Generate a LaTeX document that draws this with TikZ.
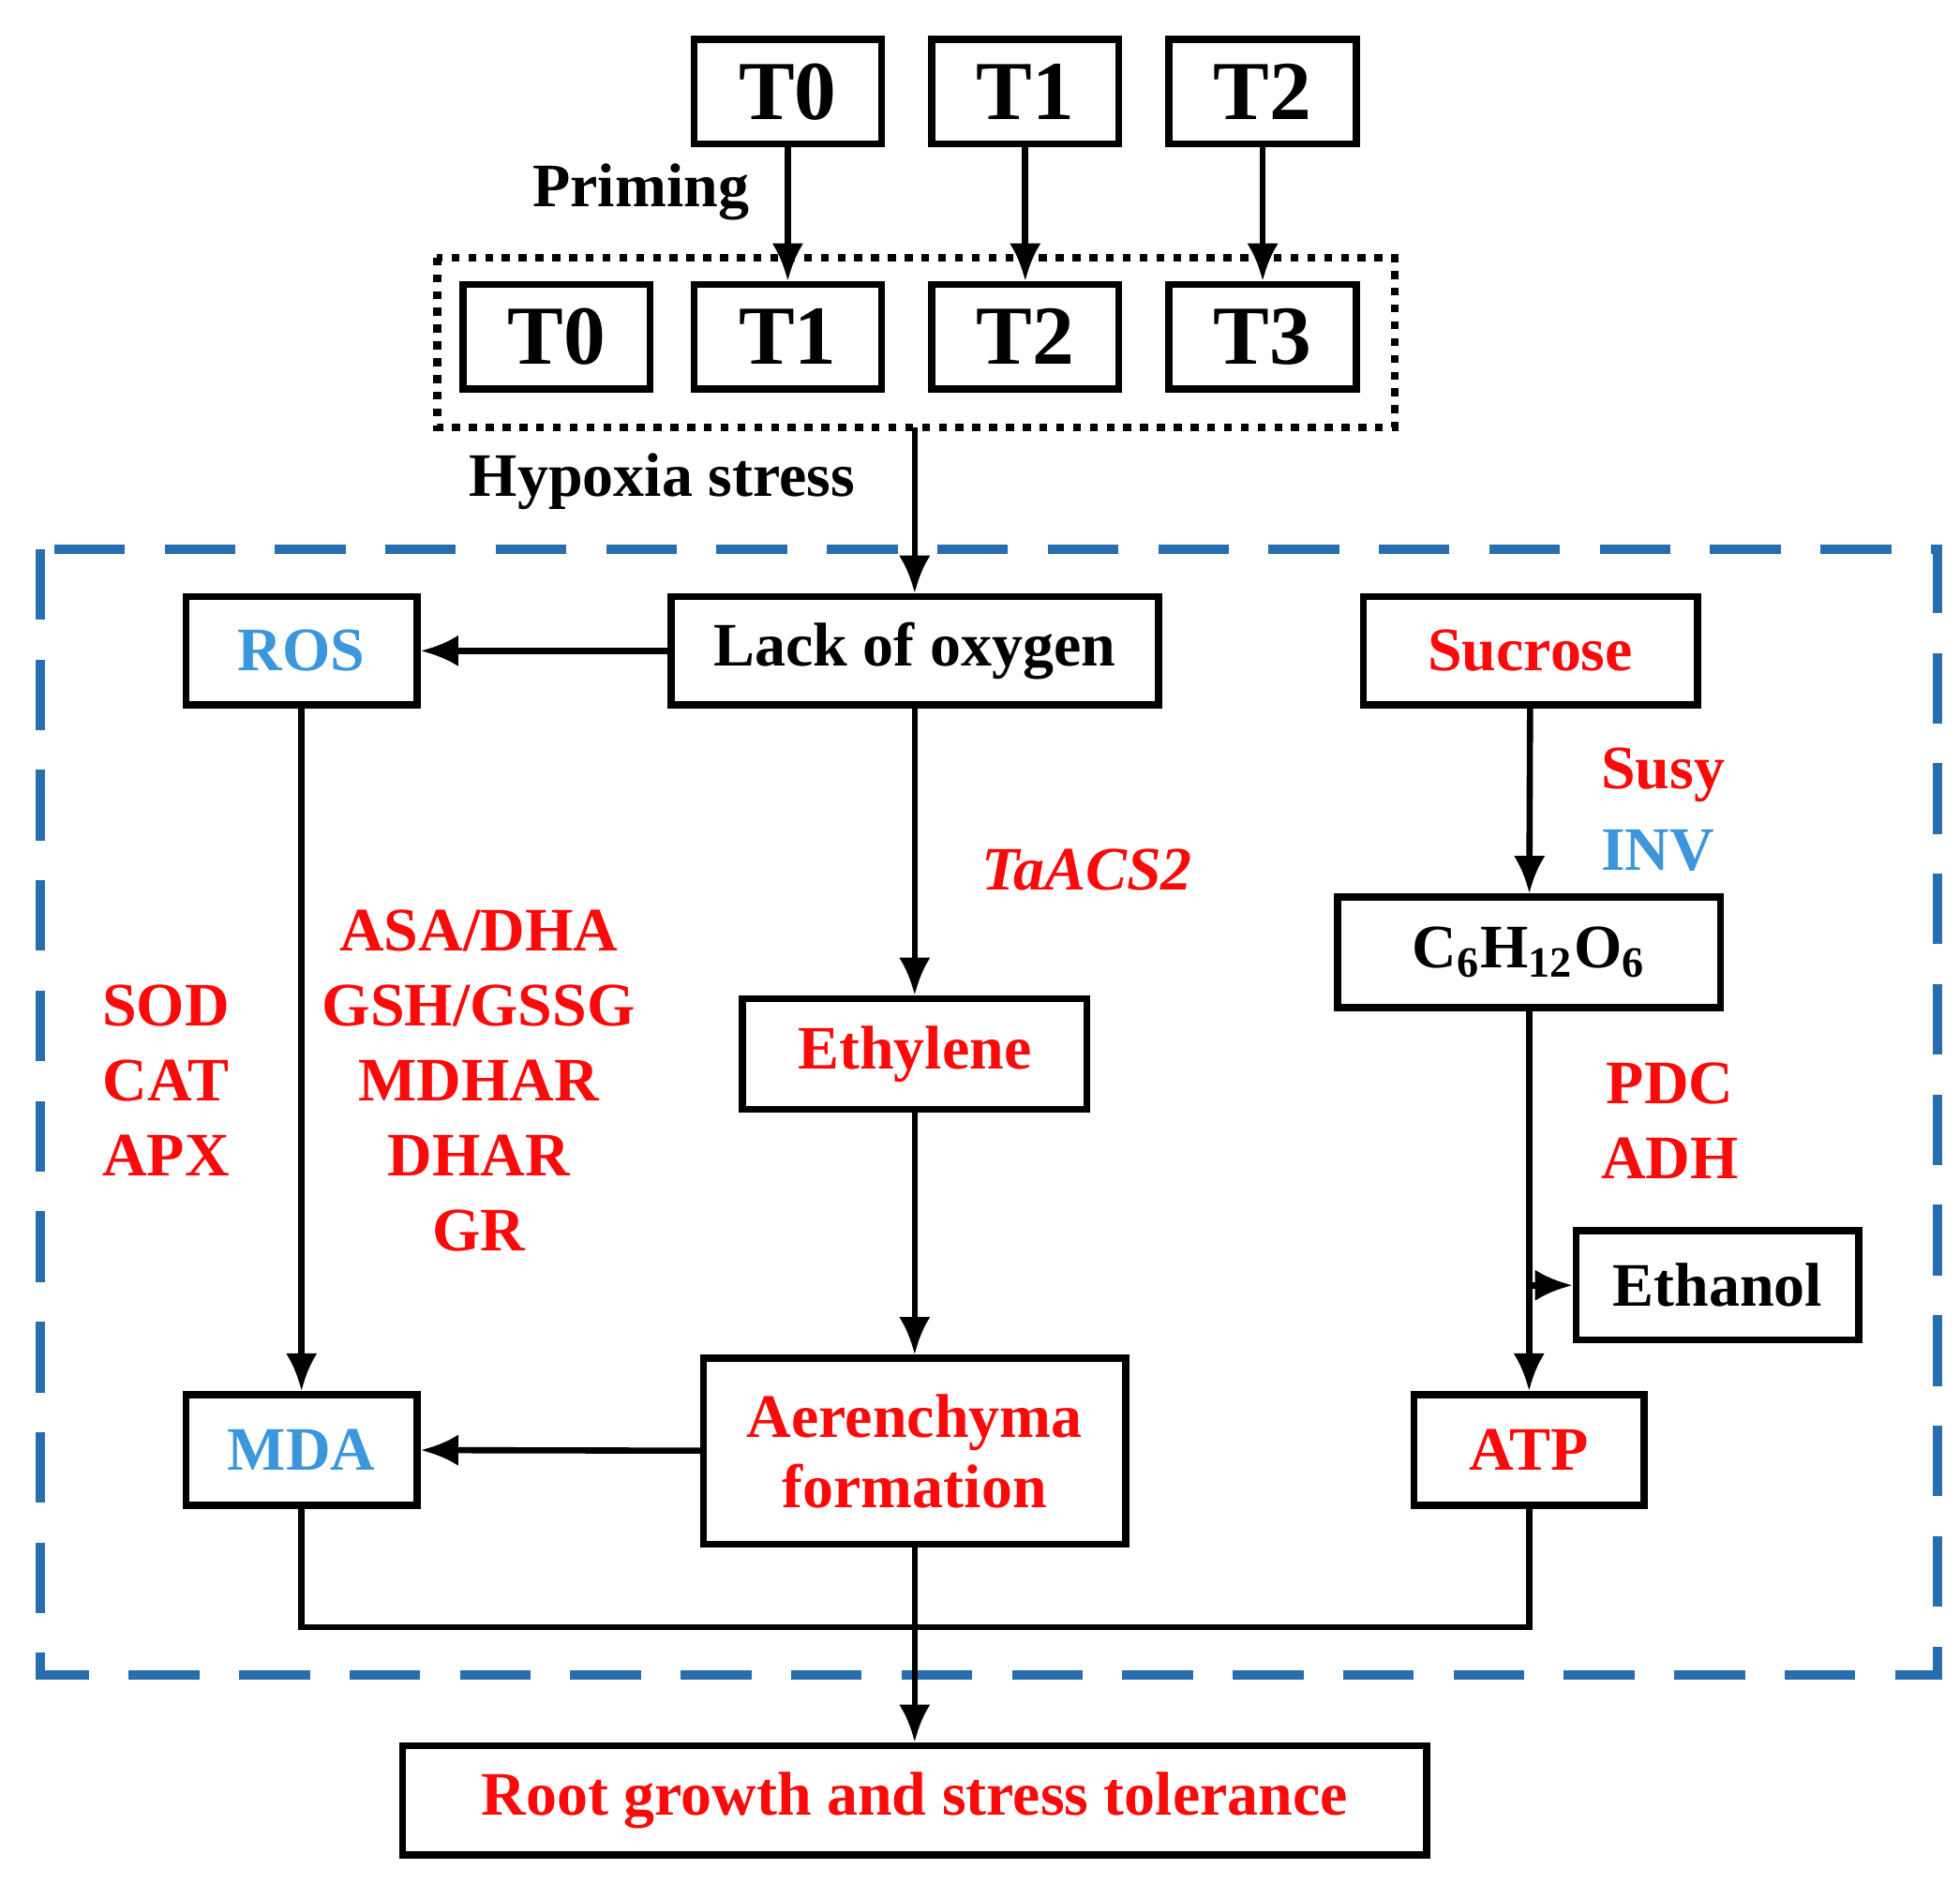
\documentclass[tikz,border=0pt]{standalone}
\usepackage{fontspec}
\setmainfont{Liberation Serif}
\usetikzlibrary{positioning}
\definecolor{hred}{RGB}{250,10,10}
\definecolor{hblue}{RGB}{60,150,220}
\definecolor{dblue}{RGB}{40,110,175}
\tikzset{
  box/.style={draw, line width=1.6pt, font=\bfseries\fontsize{14}{16}\selectfont, inner sep=0pt},
  tbox/.style={box, minimum width=1.49cm, minimum height=0.83cm, font=\bfseries\fontsize{19}{21}\selectfont},
  lbl/.style={font=\bfseries\fontsize{14}{17}\selectfont, align=center},
  arr/.style={-{Latex[length=3mm,width=2.5mm]}, line width=1.4pt},
}
\usetikzlibrary{arrows.meta}
\begin{document}
\begin{tikzpicture}[x=0.1mm, y=-0.1mm]
  \useasboundingbox (0,0) rectangle (1560,1499);

  % priming row
  \node[tbox] (p0) at (627,73) {T0};
  \node[tbox] (p1) at (816,73) {T1};
  \node[tbox] (p2) at (1005,73) {T2};
  \node[lbl] (prim) at (510,153) {Priming};

  % hypoxia row
  \node[tbox] (h0) at (443,268) {T0};
  \node[tbox] (h1) at (627,268) {T1};
  \node[tbox] (h2) at (816,268) {T2};
  \node[tbox] (h3) at (1005,268) {T3};
  \draw[dotted, line width=1.8pt] (348,205) rectangle (1110,340);
  \coordinate (dotbot) at (728,340);
  \node[lbl] (hyp) at (527,383) {Hypoxia stress};

  \draw[arr] (p0) -- (h1);
  \draw[arr] (p1) -- (h2);
  \draw[arr] (p2) -- (h3);

  % dashed region
  \draw[dblue, dashed, dash pattern=on 16pt off 9pt, line width=2.2pt] (32,437) rectangle (1542,1333);

  \node[box, minimum width=1.84cm, minimum height=0.86cm, text=hblue] (ros) at (240,518) {ROS};
  \node[box, minimum width=3.88cm, minimum height=0.86cm] (lack) at (728,518) {Lack of oxygen};
  \node[box, minimum width=2.66cm, minimum height=0.86cm, text=hred] (suc) at (1218,518) {Sucrose};
  \node[box, minimum width=3.05cm, minimum height=0.88cm] (gluc) at (1217,758) {C\textsubscript{6}H\textsubscript{12}O\textsubscript{6}};
  \node[box, minimum width=2.74cm, minimum height=0.88cm, text=hred] (eth) at (728,839) {Ethylene};
  \node[box, minimum width=2.25cm, minimum height=0.87cm] (etoh) at (1367,1023) {Ethanol};
  \node[box, minimum width=1.84cm, minimum height=0.88cm, text=hblue] (mda) at (240,1154) {MDA};
  \node[box, minimum width=3.36cm, minimum height=1.48cm, text=hred, align=center] (aer) at (728,1155) {Aerenchyma\\formation};
  \node[box, minimum width=1.83cm, minimum height=0.88cm, text=hred] (atp) at (1217,1154) {ATP};
  \node[box, minimum width=8.15cm, minimum height=0.87cm, text=hred] (root) at (728,1433) {Root growth and stress tolerance};

  % enzyme labels
  \node[lbl, text=hred] (ant1) at (132,860) {SOD\\CAT\\APX};
  \node[lbl, text=hred] (ant2) at (381,860) {ASA/DHA\\GSH/GSSG\\MDHAR\\DHAR\\GR};
  \node[lbl, text=hred, font=\bfseries\itshape\fontsize{14}{17}\selectfont] (acs) at (865,692) {TaACS2};
  \node[lbl, text=hred, anchor=west] (susy) at (1262,617) {Susy};
  \node[lbl, text=hblue, anchor=west] (inv) at (1262,677) {INV};
  \node[lbl, text=hred, anchor=west] (pdc) at (1262,892) {PDC\\ADH};

  % connectors
  \draw[arr] (dotbot) -- (lack);
  \draw[arr] (lack) -- (ros);
  \draw[arr] (lack) -- (eth);
  \draw[arr] (ros) -- (mda);
  \draw[arr] (eth) -- (aer);
  \draw[arr] (aer) -- (mda);
  \draw[arr] (suc) -- (gluc);
  \draw[arr] (gluc) -- (atp);
  \coordinate (fork) at (1217,1023);
  \draw[arr] (fork) -- (etoh);
  \draw[line width=1.4pt] (mda.south) |- (728,1295) -| (atp.south);
  \draw[arr] (aer) -- (root);
\end{tikzpicture}
\end{document}
